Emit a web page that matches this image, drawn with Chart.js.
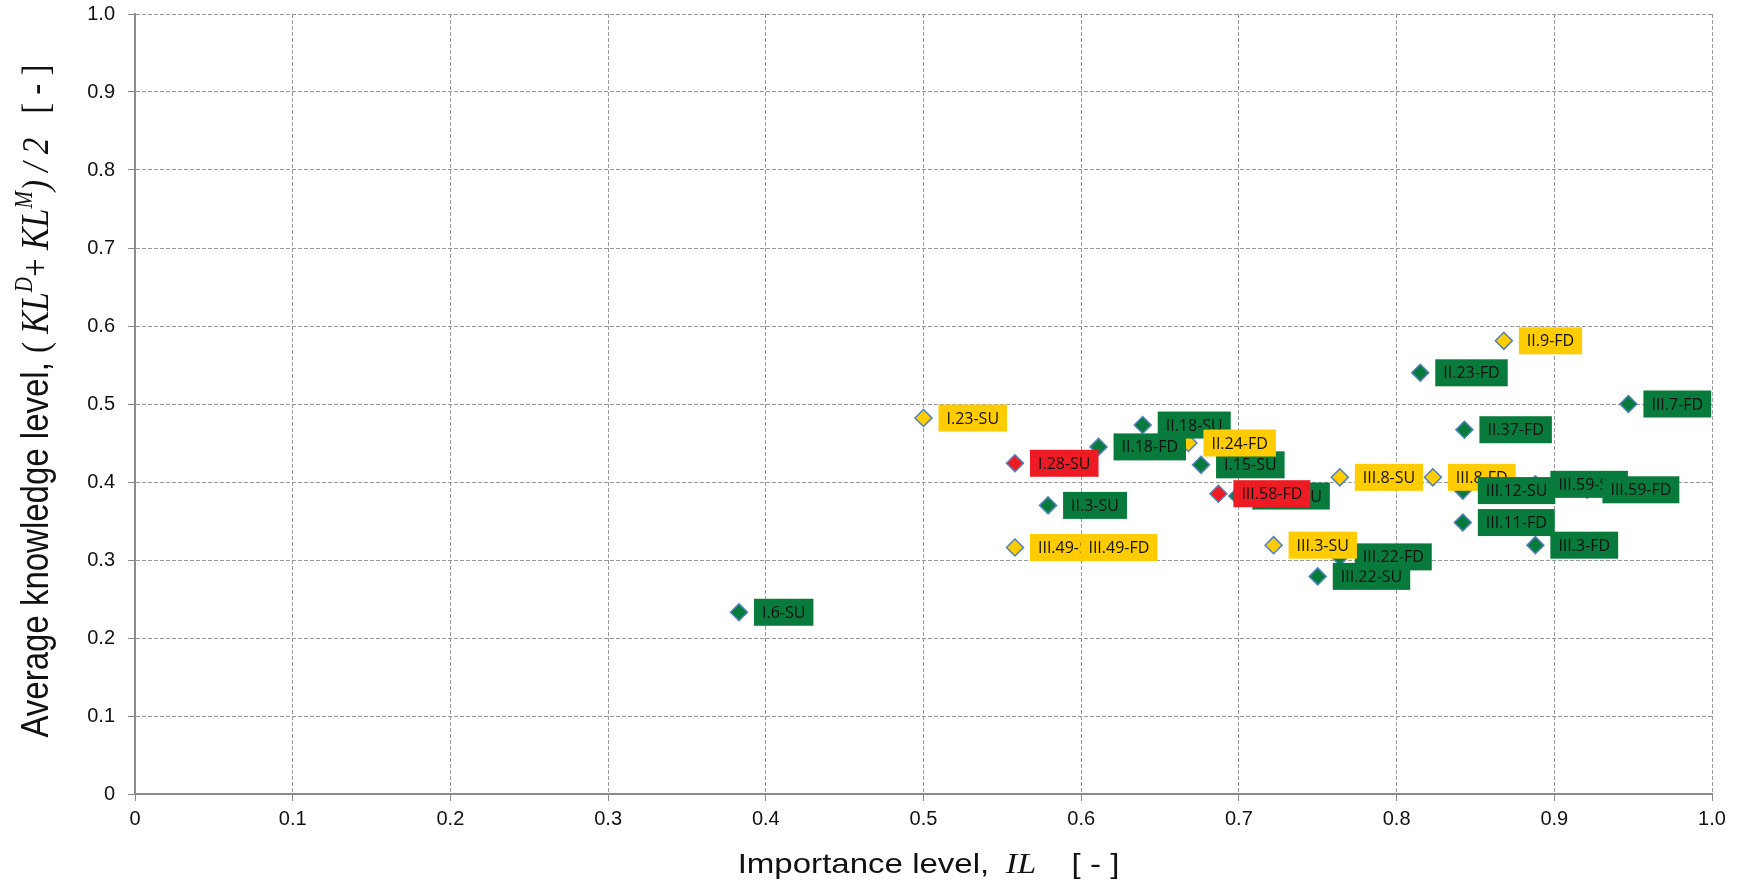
<!DOCTYPE html>
<html>
<head>
<meta charset="utf-8">
<script src="https://cdn.jsdelivr.net/npm/chart.js@4/dist/chart.umd.min.js"></script>
<style>
    html, body { margin: 0; padding: 0; background: #fff; }
</style>
</head>
<body>
<canvas id="myChart" width="1740" height="882"></canvas>
<script>
// point names, drawn in this order (later labels sit on top)
let names = ['I.6-SU', 'I.23-SU', 'I.28-SU', 'III.49-SU', 'III.49-FD', 'II.3-SU', 'II.18-SU', 'II.18-FD',
    'I.15-SU', 'II.24-FD', 'III.58-SU', 'III.58-FD', 'III.22-SU', 'III.22-FD', 'III.3-SU', 'III.8-SU',
    'III.8-FD', 'II.23-FD', 'II.37-FD', 'III.12-SU', 'III.11-FD', 'III.59-SU', 'III.59-FD', 'III.3-FD',
    'II.9-FD', 'III.7-FD'];
let importance = [0.383, 0.500, 0.558, 0.558, 0.590, 0.579, 0.639, 0.611,
    0.676, 0.668, 0.699, 0.687, 0.750, 0.764, 0.722, 0.764,
    0.823, 0.815, 0.843, 0.842, 0.842, 0.888, 0.921, 0.888,
    0.868, 0.947];
let knowledge = [0.233, 0.482, 0.424, 0.316, 0.316, 0.370, 0.473, 0.445,
    0.422, 0.450, 0.382, 0.385, 0.279, 0.304, 0.319, 0.406,
    0.406, 0.540, 0.467, 0.389, 0.348, 0.397, 0.390, 0.319,
    0.581, 0.500];
let groups = ['green', 'yellow', 'red', 'yellow', 'yellow', 'green', 'green', 'green',
    'green', 'yellow', 'green', 'red', 'green', 'green', 'yellow', 'yellow',
    'yellow', 'green', 'green', 'green', 'green', 'green', 'green', 'green',
    'yellow', 'green'];

let fills = { green: '#077a3c', yellow: '#ffcc00', red: '#ed1c24' };

document.addEventListener('DOMContentLoaded', e => {
    let ctx = document.getElementById('myChart').getContext('2d');
    let points = importance.map((v, i) => ({ x: v, y: knowledge[i] }));
    let pointColors = groups.map(g => fills[g]);

    new Chart(ctx, {
        type: 'scatter',
        data: {
            datasets: [{
                data: points,
                pointStyle: 'rectRot',
                pointRadius: 8.5,
                pointHoverRadius: 8.5,
                pointBackgroundColor: pointColors,
                pointBorderColor: '#4f81bd',
                pointBorderWidth: 1.5
            }]
        },
        options: generateOptions(),
        plugins: [labelBoxes, axisTitles]
    });
});

function tickText(value) {
    return value === 0 ? '0' : value.toFixed(1);
}

function generateOptions() {
    let axis = (fit) => ({
        type: 'linear',
        min: 0,
        max: 1,
        afterFit: fit,
        ticks: {
            stepSize: 0.1,
            callback: tickText,
            color: '#111',
            font: { family: 'Liberation Sans', size: 20 }
        },
        grid: {
            color: '#9a9a9a',
            lineWidth: 1,
            tickLength: 7,
            tickColor: '#888',
            tickWidth: 1
        },
        border: { color: '#8a8a8a', width: 2, dash: [4, 2] }
    });
    let x = axis(scale => { scale.height = 88; });
    x.ticks.padding = 6;
    let y = axis(scale => {
        scale.width = 135;
        scale.paddingTop = 8;
        scale.paddingBottom = 8;
    });
    y.ticks.padding = 13;
    return {
        responsive: false,
        animation: false,
        layout: { padding: { top: 14, right: 28, left: 0, bottom: 0 } },
        plugins: { legend: { display: false }, tooltip: { enabled: false } },
        scales: { x: x, y: y }
    };
}

// coloured name boxes to the right of each marker
const labelBoxes = {
    id: 'labelBoxes',
    afterDatasetsDraw(chart) {
        const ctx = chart.ctx;
        const meta = chart.getDatasetMeta(0);
        ctx.save();
        ctx.font = '16px "Open Sans"';
        ctx.textBaseline = 'middle';
        meta.data.forEach((pt, i) => {
            let w = ctx.measureText(names[i]).width + 16;
            let h = 27;
            let x0 = pt.x + 15;
            ctx.fillStyle = fills[groups[i]];
            ctx.fillRect(x0, pt.y - h / 2, w, h);
            ctx.fillStyle = '#111';
            ctx.fillText(names[i], x0 + 8, pt.y + 1);
        });
        ctx.restore();
    }
};

function piecesWidth(ctx, pieces) {
    let w = 0;
    for (let p of pieces) {
        ctx.font = p.font;
        w += ctx.measureText(p.text).width + (p.gap || 0);
    }
    return w;
}

function drawPieces(ctx, pieces, x, y) {
    for (let p of pieces) {
        x += p.gap || 0;
        ctx.font = p.font;
        ctx.fillText(p.text, x, y - (p.rise || 0));
        x += ctx.measureText(p.text).width;
    }
}

// axis titles with italic symbols and superscripts
const axisTitles = {
    id: 'axisTitles',
    afterDraw(chart) {
        const ctx = chart.ctx;
        const area = chart.chartArea;
        const sans = 'Liberation Sans';
        const serif = 'Liberation Serif';
        ctx.save();
        ctx.fillStyle = '#111';
        ctx.textBaseline = 'alphabetic';

        // x title, a little wider than the font like the source figure
        let xPieces = [
            { text: 'Importance level,', font: `28px "${sans}"` },
            { text: 'IL', font: `italic 29px "${serif}"`, gap: 14 },
            { text: '[ - ]', font: `28px "${sans}"`, gap: 30 }
        ];
        let stretch = 1.18;
        let xw = piecesWidth(ctx, xPieces) * stretch;
        ctx.save();
        ctx.translate((area.left + area.right) / 2 + 5 - xw / 2, chart.height - 9);
        ctx.scale(stretch, 1);
        drawPieces(ctx, xPieces, 0, 0);
        ctx.restore();

        let yPieces = [
            { text: 'Average knowledge level, ', font: `33px "${sans}"` },
            { text: '( ', font: `33px "${serif}"` },
            { text: 'KL', font: `italic 34px "${serif}"` },
            { text: 'D', font: `italic 21px "${serif}"`, rise: 14 },
            { text: '+ ', font: `33px "${serif}"` },
            { text: 'KL', font: `italic 34px "${serif}"` },
            { text: 'M', font: `italic 21px "${serif}"`, rise: 14 },
            { text: ') / 2', font: `italic 33px "${serif}"` },
            { text: '[ - ]', font: `33px "${serif}"`, gap: 24 }
        ];
        let yw = piecesWidth(ctx, yPieces);
        ctx.translate(48, (area.top + area.bottom) / 2 - 3);
        ctx.rotate(-Math.PI / 2);
        ctx.scale(1, 1.15);
        drawPieces(ctx, yPieces, -yw / 2, 0);
        ctx.restore();
    }
};
</script>
</body>
</html>
